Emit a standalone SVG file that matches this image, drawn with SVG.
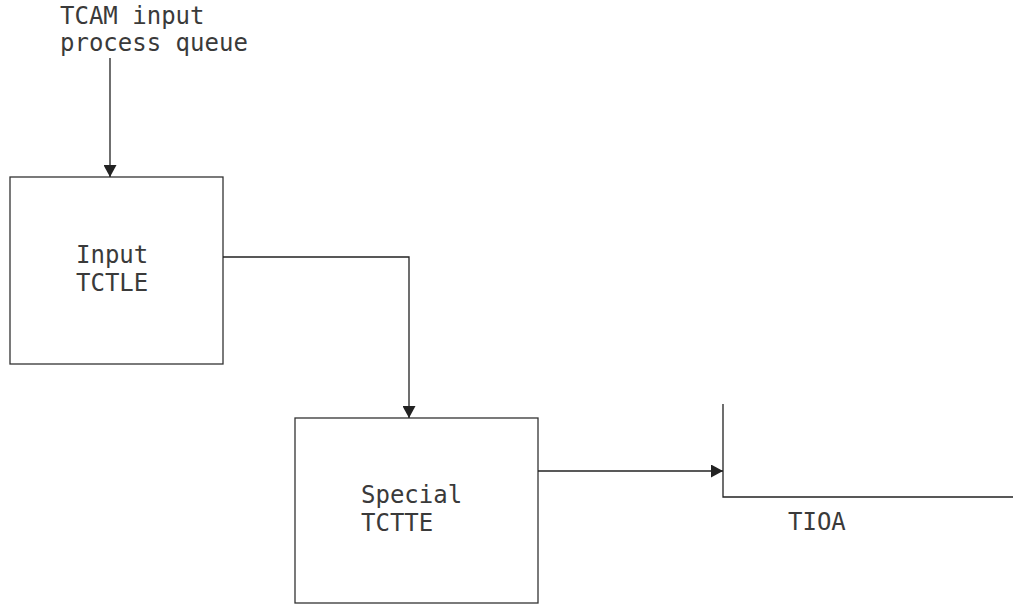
<svg xmlns="http://www.w3.org/2000/svg" width="1013" height="605" viewBox="0 0 1013 605">
<style>
.box{fill:none;stroke:#333;stroke-width:1.3}
.ln{fill:none;stroke:#222;stroke-width:1.3}
.t{font-family:"DejaVu Sans Mono","Liberation Mono",monospace;font-size:24px;fill:#3a3a3a}
</style>
<defs>
<marker id="ah" viewBox="0 0 12 13" refX="12" refY="6.5" markerWidth="12" markerHeight="13" markerUnits="userSpaceOnUse" orient="auto">
<path d="M0,0 L12,6.5 L0,13 Z" fill="#222"/>
</marker>
</defs>
<rect width="1013" height="605" fill="#fff"/>
<g id="label-tcam">
<text class="t" x="60" y="24">TCAM input</text>
<text class="t" x="60" y="51">process queue</text>
</g>
<g id="input-tctle">
<rect class="box" x="10" y="177" width="213" height="187"/>
<text class="t" x="76" y="263">Input</text>
<text class="t" x="76" y="291">TCTLE</text>
</g>
<g id="special-tctte">
<rect class="box" x="295" y="418" width="243" height="185"/>
<text class="t" x="361" y="503">Special</text>
<text class="t" x="361" y="531">TCTTE</text>
</g>
<g id="tioa">
<path class="ln" d="M723,404 V497 H1013"/>
<text class="t" x="788" y="530">TIOA</text>
</g>
<g id="connectors">
<path class="ln" d="M110,58 V177" marker-end="url(#ah)"/>
<path class="ln" d="M223,257 H409 V418" marker-end="url(#ah)"/>
<path class="ln" d="M538,471 H723" marker-end="url(#ah)"/>
</g>
</svg>
